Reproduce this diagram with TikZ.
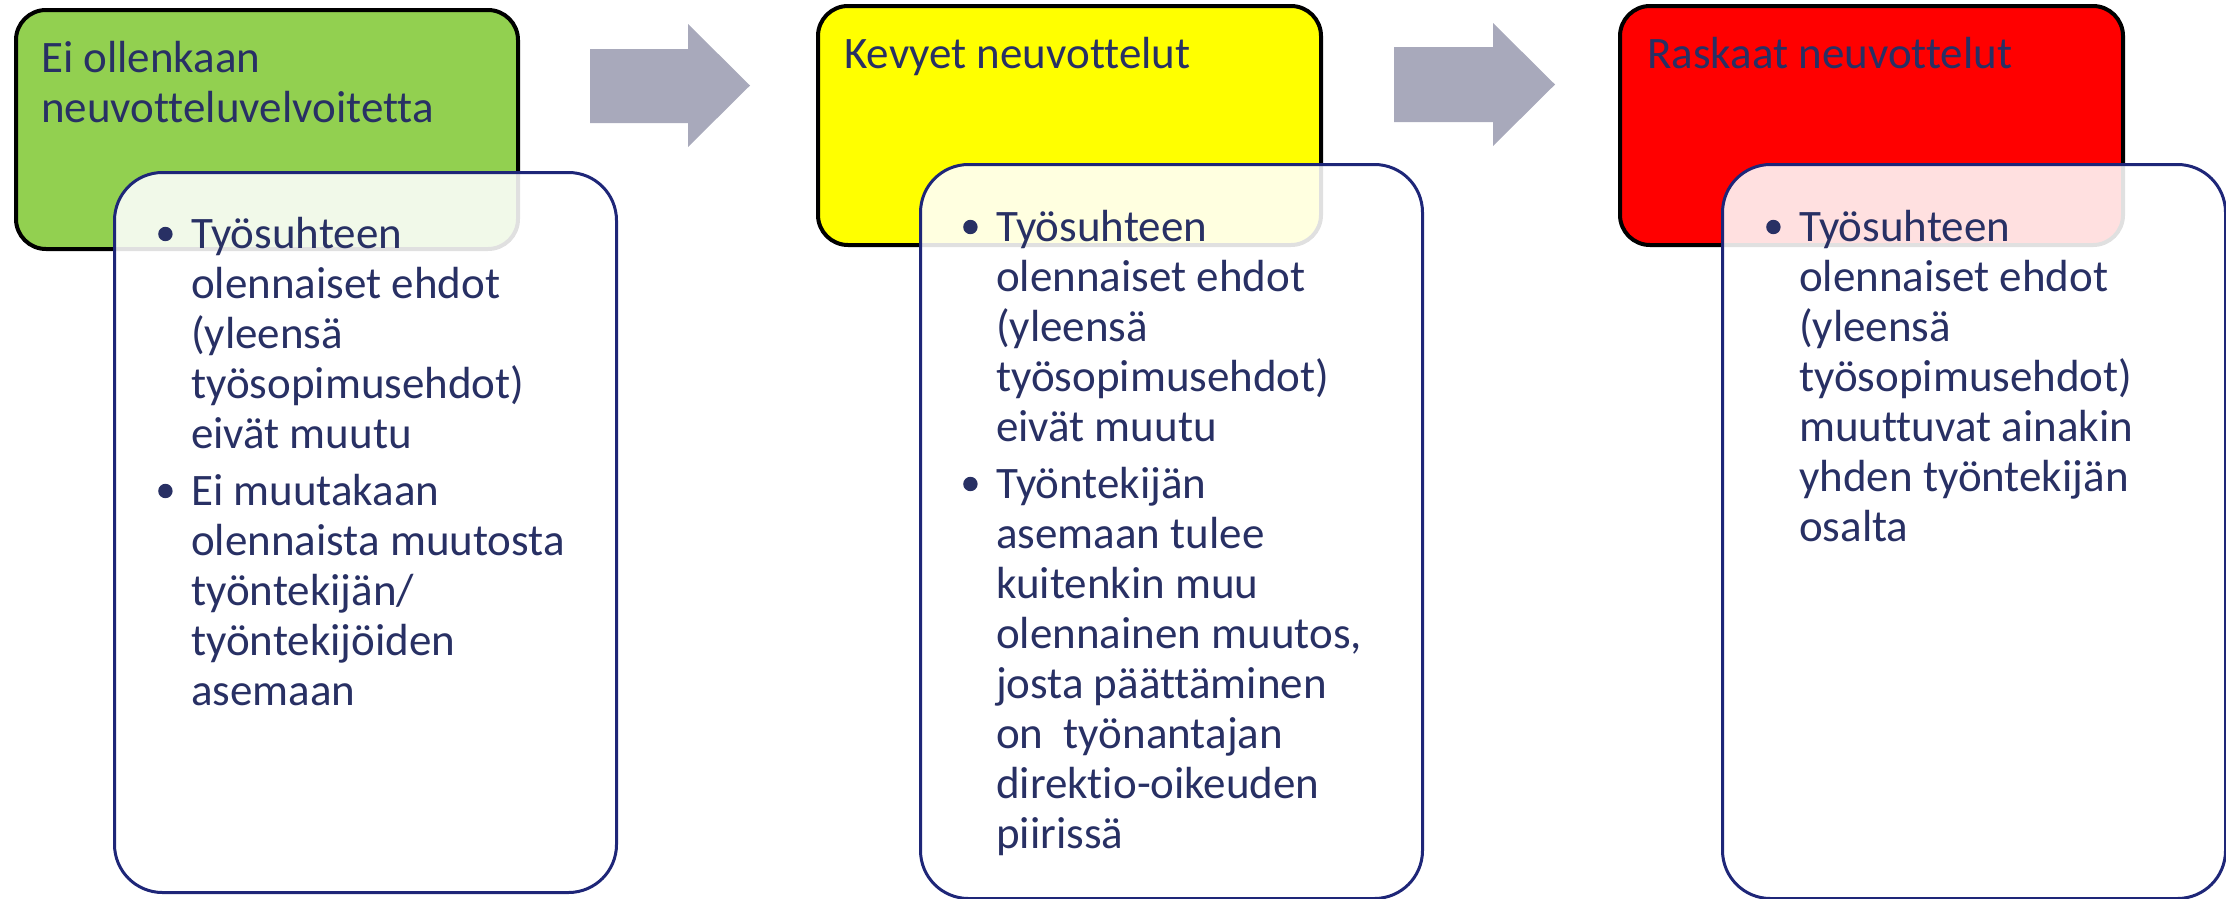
\documentclass[tikz,border=0pt]{standalone}
\usepackage{fontspec}
\setmainfont[Ligatures=NoCommon]{Carlito}
\definecolor{navytext}{RGB}{40,48,100}
\definecolor{navyline}{RGB}{30,38,120}
\definecolor{boxgreen}{RGB}{146,208,80}
\definecolor{boxyellow}{RGB}{255,255,0}
\definecolor{boxred}{RGB}{255,0,0}
\definecolor{arrowgray}{RGB}{168,169,187}
\newcommand{\bdot}{\tikz[baseline=0pt]\fill[navytext] (7.5pt,14pt) circle[radius=7.2pt];}
\newcommand{\bitem}[1]{\noindent\hangindent=33pt\hangafter=1\makebox[33pt][l]{\bdot}#1\par}
\tikzset{
  headbox/.style={draw=black, line width=4pt, rounded corners=30pt, anchor=north west,
    minimum height=239pt, inner sep=0pt},
  listbox/.style={draw=navyline, line width=3pt, fill=white, fill opacity=0.88,
    rounded corners=48pt, anchor=north west, inner sep=0pt},
  txt/.style={anchor=base west, inner sep=0pt, text=navytext,
    font=\fontsize{45pt}{50pt}\selectfont},
  blockarrow/.style={fill=arrowgray},
}
\begin{document}
\begin{tikzpicture}[x=1pt,y=-1pt]
\useasboundingbox (0,0) rectangle (2226,898);
% colored heading boxes
\node[headbox, fill=boxgreen, minimum width=502pt] (h1) at (14,8) {};
\node[headbox, fill=boxyellow, minimum width=503pt] (h2) at (816,4) {};
\node[headbox, fill=boxred, minimum width=503pt] (h3) at (1618,4) {};
% titles
\node[txt] (t1) at (41,72) {\vtop{\hsize=470pt\noindent Ei ollenkaan\\neuvotteluvelvoitetta}};
\node[txt] (t2) at (844,68) {Kevyet neuvottelut};
\node[txt] (t3) at (1647,68) {Raskaat neuvottelut};
% arrows
\fill[blockarrow] (590,49) -- (688,49) -- (688,24) -- (750,85.5) -- (688,147) -- (688,123) -- (590,123) -- cycle;
\fill[blockarrow] (1394,47) -- (1493,47) -- (1493,23) -- (1555,84.5) -- (1493,146) -- (1493,122) -- (1394,122) -- cycle;
% list boxes
\node[listbox, minimum width=502pt, minimum height=720pt] (l1) at (113,171) {};
\node[listbox, minimum width=502pt, minimum height=734pt] (l2) at (919,163) {};
\node[listbox, minimum width=503pt, minimum height=734pt] (l3) at (1721,163) {};
% list texts
\node[txt] (b1) at (158,248) {\vtop{\hsize=440pt\parskip=7pt
  \bitem{Työsuhteen\\olennaiset ehdot\\(yleensä\\työsopimusehdot)\\eivät muutu}
  \bitem{Ei muutakaan\\olennaista muutosta\\työntekijän/\\työntekijöiden\\asemaan}}};
\node[txt] (b2) at (963,241) {\vtop{\hsize=440pt\parskip=7pt
  \bitem{Työsuhteen\\olennaiset ehdot\\(yleensä\\työsopimusehdot)\\eivät muutu}
  \bitem{Työntekijän\\asemaan tulee\\kuitenkin muu\\olennainen muutos,\\josta päättäminen\\on\ \ työnantajan\\direktio-oikeuden\\piirissä}}};
\node[txt] (b3) at (1766,241) {\vtop{\hsize=440pt\parskip=7pt
  \bitem{Työsuhteen\\olennaiset ehdot\\(yleensä\\työsopimusehdot)\\muuttuvat ainakin\\yhden työntekijän\\osalta}}};
\end{tikzpicture}
\end{document}
